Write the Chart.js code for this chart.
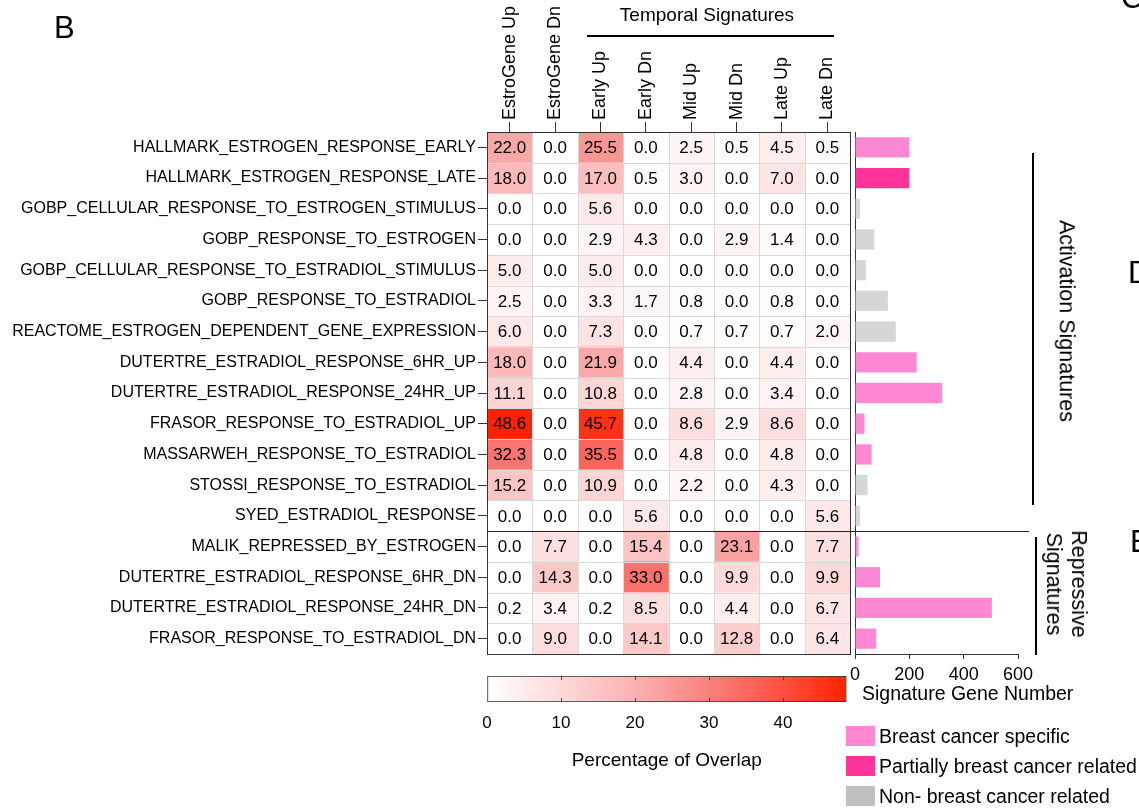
<!DOCTYPE html>
<html><head><meta charset="utf-8">
<script src="https://cdn.jsdelivr.net/npm/chart.js@4.4.1/dist/chart.umd.min.js"></script>
<style>
html,body{margin:0;padding:0;background:#fff;}
#wrap{position:relative;width:1139px;height:808px;overflow:hidden;font-family:'Liberation Sans',Arial,Helvetica,sans-serif;color:#000;}
canvas{position:absolute;left:0;top:0;}
.t{position:absolute;white-space:nowrap;line-height:1;}
.c{transform:translate(-50%,-50%);}
.r{transform:translate(-50%,-50%) rotate(90deg);text-align:center;}
.ln{position:absolute;background:#000;}
.sw{position:absolute;left:846px;width:29px;height:20px;}
</style></head><body>
<div id="wrap">
<canvas id="heat" width="1139" height="808"></canvas>
<canvas id="bars" width="1139" height="808"></canvas>
<canvas id="cbar" width="1139" height="808"></canvas>

<div class="t" style="left:54px;top:12px;font-size:31px;">B</div>
<div class="t" style="left:1121px;top:-18px;font-size:31px;">C</div>
<div class="t" style="left:1128px;top:257px;font-size:31px;">D</div>
<div class="t" style="left:1130px;top:526px;font-size:31px;">E</div>

<div class="t c" style="left:707px;top:14px;font-size:19px;">Temporal Signatures</div>
<div class="ln" style="left:587px;top:35px;width:247px;height:2px;"></div>

<div class="ln" style="left:1032px;top:153px;width:2px;height:352px;"></div>
<div class="t r" style="left:1066px;top:321px;font-size:21.5px;">Activation Signatures</div>
<div class="ln" style="left:1035px;top:537px;width:2px;height:118px;"></div>
<div class="t r" style="left:1066px;top:584px;font-size:21.5px;line-height:25px;">Repressive<br>Signatures</div>

<div class="t" style="left:862px;top:684px;font-size:19.5px;">Signature Gene Number</div>

<div class="sw" style="top:726px;background:#FF88D5;"></div>
<div class="sw" style="top:756px;background:#FF3399;"></div>
<div class="sw" style="top:786px;background:#C0C0C0;"></div>
<div class="t" style="left:879px;top:727px;font-size:19.5px;">Breast cancer specific</div>
<div class="t" style="left:879px;top:757px;font-size:19.5px;">Partially breast cancer related</div>
<div class="t" style="left:879px;top:787px;font-size:19.5px;">Non- breast cancer related</div>
</div>

<script>
// ---------- DATA ----------
const rowLabels = [
  'HALLMARK_ESTROGEN_RESPONSE_EARLY',
  'HALLMARK_ESTROGEN_RESPONSE_LATE',
  'GOBP_CELLULAR_RESPONSE_TO_ESTROGEN_STIMULUS',
  'GOBP_RESPONSE_TO_ESTROGEN',
  'GOBP_CELLULAR_RESPONSE_TO_ESTRADIOL_STIMULUS',
  'GOBP_RESPONSE_TO_ESTRADIOL',
  'REACTOME_ESTROGEN_DEPENDENT_GENE_EXPRESSION',
  'DUTERTRE_ESTRADIOL_RESPONSE_6HR_UP',
  'DUTERTRE_ESTRADIOL_RESPONSE_24HR_UP',
  'FRASOR_RESPONSE_TO_ESTRADIOL_UP',
  'MASSARWEH_RESPONSE_TO_ESTRADIOL',
  'STOSSI_RESPONSE_TO_ESTRADIOL',
  'SYED_ESTRADIOL_RESPONSE',
  'MALIK_REPRESSED_BY_ESTROGEN',
  'DUTERTRE_ESTRADIOL_RESPONSE_6HR_DN',
  'DUTERTRE_ESTRADIOL_RESPONSE_24HR_DN',
  'FRASOR_RESPONSE_TO_ESTRADIOL_DN'
];
const columnLabels = ['EstroGene Up','EstroGene Dn','Early Up','Early Dn','Mid Up','Mid Dn','Late Up','Late Dn'];

const estroGeneUp = [22.0,18.0,0.0,0.0,5.0,2.5,6.0,18.0,11.1,48.6,32.3,15.2,0.0,0.0,0.0,0.2,0.0];
const estroGeneDn = [0.0,0.0,0.0,0.0,0.0,0.0,0.0,0.0,0.0,0.0,0.0,0.0,0.0,7.7,14.3,3.4,9.0];
const earlyUp     = [25.5,17.0,5.6,2.9,5.0,3.3,7.3,21.9,10.8,45.7,35.5,10.9,0.0,0.0,0.0,0.2,0.0];
const earlyDn     = [0.0,0.5,0.0,4.3,0.0,1.7,0.0,0.0,0.0,0.0,0.0,0.0,5.6,15.4,33.0,8.5,14.1];
const midUp       = [2.5,3.0,0.0,0.0,0.0,0.8,0.7,4.4,2.8,8.6,4.8,2.2,0.0,0.0,0.0,0.0,0.0];
const midDn       = [0.5,0.0,0.0,2.9,0.0,0.0,0.7,0.0,0.0,2.9,0.0,0.0,0.0,23.1,9.9,4.4,12.8];
const lateUp      = [4.5,7.0,0.0,1.4,0.0,0.8,0.7,4.4,3.4,8.6,4.8,4.3,0.0,0.0,0.0,0.0,0.0];
const lateDn      = [0.5,0.0,0.0,0.0,0.0,0.0,2.0,0.0,0.0,0.0,0.0,0.0,5.6,7.7,9.9,6.7,6.4];
const seriesValues = [estroGeneUp, estroGeneDn, earlyUp, earlyDn, midUp, midDn, lateUp, lateDn];

const geneCounts = [200,200,18,71,40,121,150,227,321,35,61,46,18,13,92,504,78];
// 0 = breast cancer specific, 1 = partially related, 2 = non-related
const geneClass  = [0,1,2,2,2,2,2,0,0,0,0,2,2,0,0,0,0];

const colorbarMax = 48.6;
const colorbarTicks = [0,10,20,30,40];
const geneAxisTicks = [0,200,400,600];
const splitAfterRow = 12; // last activation signature index

// ---------- STYLE ----------
const FONT = "'Liberation Sans', Arial, Helvetica, sans-serif";
Chart.defaults.font.family = FONT;
Chart.defaults.color = '#000';
const classColors = ['#FF88D5', '#FF3399', '#D6D6D6'];
const colorStops = [[0,[255,255,255]],[0.41,[251,178,178]],[0.62,[248,128,125]],[0.82,[255,80,65]],[1,[255,34,0]]];
function heatColor(v){
  const t = Math.max(0, Math.min(1, v / colorbarMax));
  for (let i = 1; i < colorStops.length; i++) {
    if (t <= colorStops[i][0]) {
      const [t0,c0] = colorStops[i-1], [t1,c1] = colorStops[i];
      const f = (t - t0) / (t1 - t0);
      return 'rgb(' + c0.map((c,k) => Math.round(c + (c1[k]-c)*f)).join(',') + ')';
    }
  }
  return 'rgb(255,34,0)';
}

// ---------- HEATMAP ----------
const heatPlugin = {
  id: 'heatDecor',
  afterDatasetsDraw(chart) {
    const {ctx, chartArea: a, scales: {x, y}} = chart;
    ctx.save();
    ctx.strokeStyle = '#d9d9d9';
    ctx.lineWidth = 1;
    for (let i = 1; i < columnLabels.length; i++) {
      const px = Math.round(x.getPixelForValue(i)) + 0.5;
      ctx.beginPath(); ctx.moveTo(px, a.top); ctx.lineTo(px, a.bottom); ctx.stroke();
    }
    for (let j = 0; j < rowLabels.length - 1; j++) {
      const py = Math.round((y.getPixelForValue(j) + y.getPixelForValue(j+1)) / 2) + 0.5;
      ctx.beginPath(); ctx.moveTo(a.left, py); ctx.lineTo(a.right, py); ctx.stroke();
    }
    ctx.fillStyle = '#000';
    ctx.font = '17px ' + FONT;
    ctx.textAlign = 'center';
    ctx.textBaseline = 'middle';
    chart.data.datasets.forEach((ds, di) => {
      const meta = chart.getDatasetMeta(di);
      meta.data.forEach((el, ri) => {
        const cx = (el.x + el.base) / 2;
        ctx.fillText(seriesValues[di][ri].toFixed(1), cx, el.y + 1);
      });
    });
    ctx.strokeStyle = '#333';
    ctx.strokeRect(Math.round(a.left) + 0.5, Math.round(a.top) + 0.5, Math.round(a.right - a.left), Math.round(a.bottom - a.top));
    const sy = Math.round((y.getPixelForValue(splitAfterRow) + y.getPixelForValue(splitAfterRow+1)) / 2) + 0.5;
    ctx.strokeStyle = '#222';
    ctx.beginPath(); ctx.moveTo(a.left, sy); ctx.lineTo(1029, sy); ctx.stroke();
    ctx.restore();
  }
};

new Chart(document.getElementById('heat'), {
  type: 'bar',
  data: {
    labels: rowLabels,
    datasets: columnLabels.map((c, ci) => ({
      label: c,
      data: rowLabels.map(() => 1),
      backgroundColor: seriesValues[ci].map(heatColor),
      borderWidth: 0,
      barPercentage: 1,
      categoryPercentage: 1
    }))
  },
  options: {
    responsive: false, animation: false, indexAxis: 'y',
    layout: {padding: {left: 0, top: 0, right: 289, bottom: 154}},
    plugins: {legend: {display: false}, tooltip: {enabled: false}},
    scales: {
      x: {
        type: 'linear', stacked: true, position: 'top', min: 0, max: columnLabels.length,
        afterBuildTicks: s => { s.ticks = columnLabels.map((c, i) => ({value: i + 0.5})); },
        afterFit: s => { s.height = 132; },
        ticks: {callback: v => columnLabels[Math.floor(v)], minRotation: 90, maxRotation: 90, autoSkip: false,
                font: {size: 18}, color: '#000', padding: 2, labelOffset: 21.6},
        grid: {drawOnChartArea: false, drawTicks: true, tickLength: 10, color: '#333', tickColor: '#333'},
        border: {display: false}
      },
      y: {
        stacked: true,
        afterFit: s => { s.width = 487; },
        ticks: {font: {size: 16}, color: '#000', padding: 2, autoSkip: false},
        grid: {drawOnChartArea: false, offset: false, tickLength: 9, color: '#333', tickColor: '#333'},
        border: {display: false}
      }
    }
  },
  plugins: [heatPlugin]
});

// ---------- GENE NUMBER BARS ----------
new Chart(document.getElementById('bars'), {
  type: 'bar',
  data: {
    labels: rowLabels,
    datasets: [{
      label: 'Signature Gene Number',
      data: geneCounts,
      backgroundColor: geneClass.map(c => classColors[c]),
      borderWidth: 0,
      barPercentage: 0.66,
      categoryPercentage: 1
    }]
  },
  options: {
    responsive: false, animation: false, indexAxis: 'y',
    layout: {padding: {left: 855, right: 121, top: 132, bottom: 808 - 654 - 51}},
    plugins: {legend: {display: false}, tooltip: {enabled: false}},
    scales: {
      x: {
        min: 0, max: 600,
        afterBuildTicks: s => { s.ticks = geneAxisTicks.map(v => ({value: v})); },
        afterFit: s => { s.height = 51; },
        ticks: {font: {size: 18}, color: '#000', padding: 5},
        grid: {drawOnChartArea: false, tickLength: 5, color: '#333', tickColor: '#333'},
        border: {display: true, color: '#333'},
        title: {display: false}
      },
      y: {
        afterFit: s => { s.width = 0; },
        ticks: {display: false},
        grid: {display: false, drawTicks: false},
        border: {display: true, color: '#333'}
      }
    }
  }
});

// ---------- COLOR BAR ----------
const cbarPlugin = {
  id: 'cbarTicks',
  afterDatasetsDraw(chart) {
    const {ctx, chartArea: a, scales: {x}} = chart;
    ctx.save();
    ctx.strokeStyle = '#444';
    ctx.lineWidth = 1;
    colorbarTicks.forEach(v => {
      if (v <= 0 || v >= colorbarMax) return;
      const px = Math.round(x.getPixelForValue(v)) + 0.5;
      ctx.beginPath(); ctx.moveTo(px, a.top); ctx.lineTo(px, a.top + 4); ctx.stroke();
      ctx.beginPath(); ctx.moveTo(px, a.bottom); ctx.lineTo(px, a.bottom - 4); ctx.stroke();
    });
    ctx.restore();
  }
};

new Chart(document.getElementById('cbar'), {
  type: 'bar',
  data: {
    labels: ['overlap'],
    datasets: [{
      label: 'Percentage of Overlap',
      data: [colorbarMax],
      backgroundColor: (c) => {
        const ch = c.chart, a = ch.chartArea;
        if (!a) return '#fff';
        const g = ch.ctx.createLinearGradient(a.left, 0, a.right, 0);
        colorStops.forEach(([t, col]) => g.addColorStop(t, 'rgb(' + col.join(',') + ')'));
        return g;
      },
      borderColor: '#333',
      borderWidth: 1,
      borderSkipped: false,
      barPercentage: 1,
      categoryPercentage: 1
    }]
  },
  options: {
    responsive: false, animation: false, indexAxis: 'y',
    layout: {padding: {left: 487, right: 1139 - 846.5, top: 676, bottom: 808 - 702 - 70}},
    plugins: {legend: {display: false}, tooltip: {enabled: false}},
    scales: {
      x: {
        min: 0, max: colorbarMax,
        afterBuildTicks: s => { s.ticks = colorbarTicks.map(v => ({value: v})); },
        afterFit: s => { s.height = 70; },
        ticks: {font: {size: 17}, color: '#000', padding: 11},
        grid: {drawOnChartArea: false, drawTicks: false},
        border: {display: false},
        title: {display: true, text: 'Percentage of Overlap', font: {size: 19}, color: '#000', padding: {top: 0, bottom: 0}}
      },
      y: {display: false}
    }
  },
  plugins: [cbarPlugin]
});
</script>
</body></html>
